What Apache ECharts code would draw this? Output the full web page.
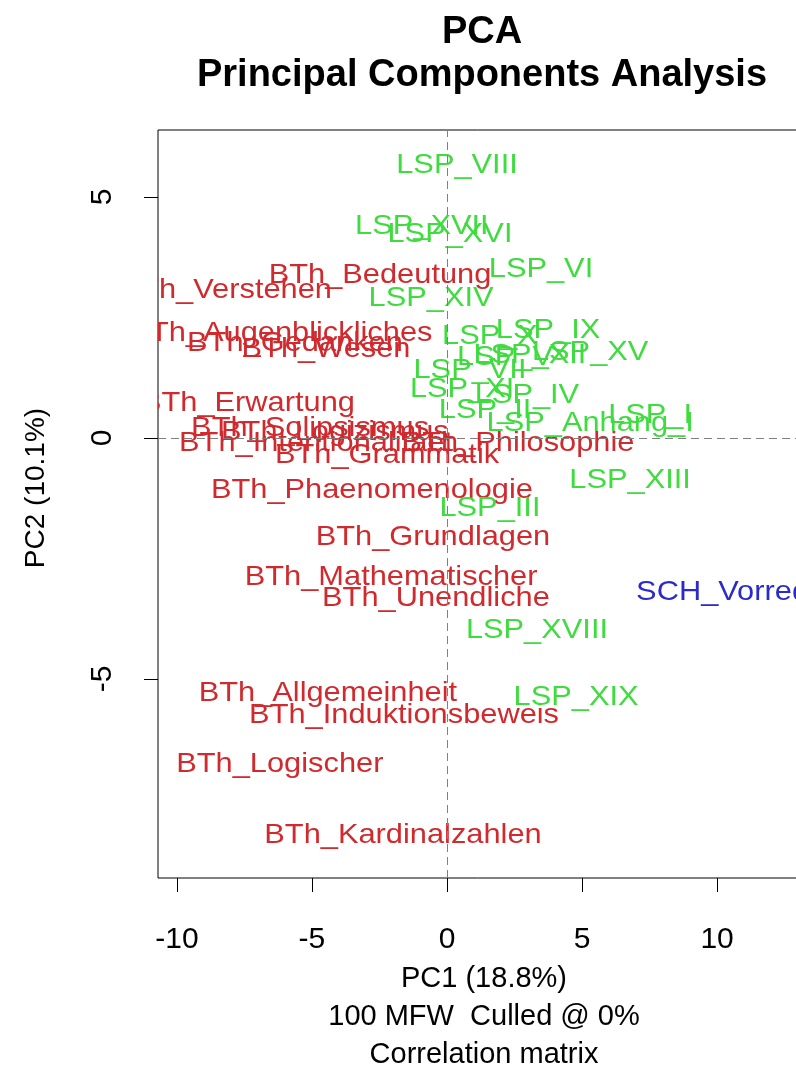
<!DOCTYPE html>
<html>
<head>
<meta charset="utf-8">
<script src="https://cdn.jsdelivr.net/npm/echarts@6/dist/echarts.min.js"></script>
<style>
html,body{margin:0;padding:0;background:#fff;}
#chart{width:796px;height:1068px;}
</style>
</head>
<body>
<div id="chart"></div>
<script>
// ---- data ----
const bthNames = ['BTh_Bedeutung','BTh_Verstehen','BTh_Augenblickliches','BTh_Gedanken','BTh_Wesen',
  'BTh_Erwartung','BTh_Solipsismus','BTh_Logizismus','BTh_Intentionalitaet','BTh_Grammatik',
  'BTh_Philosophie','BTh_Phaenomenologie','BTh_Grundlagen','BTh_Mathematischer','BTh_Unendliche',
  'BTh_Allgemeinheit','BTh_Induktionsbeweis','BTh_Logischer','BTh_Kardinalzahlen'];
const bthPC1 = [-2.48,-8.19,-6.15,-5.63,-4.48,-7.37,-5.07,-4.15,-4.85,-2.22,2.63,-2.78,-0.52,-2.07,-0.41,-4.41,-1.59,-6.19,-1.63];
const bthPC2 = [3.38,3.07,2.18,1.97,1.83,0.73,0.21,0.12,-0.10,-0.35,-0.12,-1.08,-2.07,-2.90,-3.32,-5.29,-5.75,-6.78,-8.24];

const lspNames = ['LSP_I','LSP_II','LSP_III','LSP_IV','LSP_V','LSP_VI','LSP_VII','LSP_VIII','LSP_IX','LSP_X',
  'LSP_XI','LSP_XII','LSP_XIII','LSP_XIV','LSP_XV','LSP_XVI','LSP_XVII','LSP_XVIII','LSP_XIX','LSP_Anhang_I'];
const lspPC1 = [7.52,1.41,1.59,2.96,2.15,3.48,0.85,0.37,3.74,1.59,0.56,3.07,6.78,-0.59,5.30,0.11,-0.93,3.33,4.78,5.30];
const lspPC2 = [0.48,0.58,-1.45,0.89,1.68,3.49,1.41,5.66,2.24,2.10,1.00,1.72,-0.87,2.90,1.78,4.23,4.40,-3.98,-5.37,0.31];

const schNames = ['SCH_Vorrede'];
const schPC1 = [10.52];
const schPC2 = [-3.20];

const xTicks = [-10,-5,0,5,10];
const yTicks = [-5,0,5];

// ---- chart ----
const FONT = '"Liberation Sans", Arial, sans-serif';
const chart = echarts.init(document.getElementById('chart'));

function labelSeries(names, xs, ys, color) {
  return {
    type: 'custom',
    clip: true,
    silent: true,
    data: xs.map((x, i) => [x, ys[i]]),
    encode: { x: 0, y: 1 },
    renderItem: function (params, api) {
      const p = api.coord([api.value(0), api.value(1)]);
      return {
        type: 'text',
        x: p[0], y: p[1],
        scaleX: 1.1,
        style: {
          text: names[params.dataIndex],
          fill: color,
          fontSize: 28,
          fontFamily: FONT,
          align: 'center',
          verticalAlign: 'middle'
        }
      };
    }
  };
}

chart.setOption({
  animation: false,
  backgroundColor: '#fff',
  title: {
    text: 'PCA\nPrincipal Components Analysis',
    left: 477, top: 6,
    textAlign: 'center',
    textStyle: { fontFamily: FONT, fontWeight: 'bold', fontSize: 38, lineHeight: 43, color: '#000' }
  },
  grid: {
    left: 158, top: 130, width: 652, height: 748,
    outerBoundsMode: 'none',
    containLabel: false,
    show: true, borderColor: '#000', borderWidth: 1, backgroundColor: 'transparent'
  },
  xAxis: {
    type: 'value', min: -10.7, max: 13.44,
    axisLine: { show: false, onZero: false },
    splitLine: { show: false },
    axisTick: { show: true, customValues: xTicks, length: 14, lineStyle: { color: '#000' } },
    axisLabel: { customValues: xTicks, fontSize: 30, fontFamily: FONT, color: '#000', margin: 47 },
    name: 'PC1 (18.8%)\n100 MFW  Culled @ 0%\nCorrelation matrix',
    nameLocation: 'middle', nameGap: 72,
    nameTextStyle: { fontSize: 29, fontFamily: FONT, color: '#000', lineHeight: 38, verticalAlign: 'top' }
  },
  yAxis: {
    type: 'value', min: -9.13, max: 6.39,
    axisLine: { show: false, onZero: false },
    splitLine: { show: false },
    axisTick: { show: true, customValues: yTicks, length: 14, lineStyle: { color: '#000' } },
    axisLabel: { customValues: yTicks, rotate: 90, fontSize: 30, fontFamily: FONT, color: '#000', margin: 40 },
    name: 'PC2 (10.1%)',
    nameLocation: 'middle', nameGap: 108,
    nameTextStyle: { fontSize: 28, fontFamily: FONT, color: '#000', padding: [0, 0, 0, 32] }
  },
  series: [
    {
      type: 'scatter', data: [], silent: true,
      markLine: {
        silent: true, symbol: 'none', animation: false,
        label: { show: false },
        lineStyle: { type: [8, 5], color: '#808080', width: 1 },
        data: [{ xAxis: 0 }, { yAxis: 0 }]
      }
    },
    labelSeries(bthNames, bthPC1, bthPC2, '#d02a2e'),
    labelSeries(lspNames, lspPC1, lspPC2, '#3fdc3f'),
    labelSeries(schNames, schPC1, schPC2, '#2b2bcc')
  ]
});
</script>
</body>
</html>
